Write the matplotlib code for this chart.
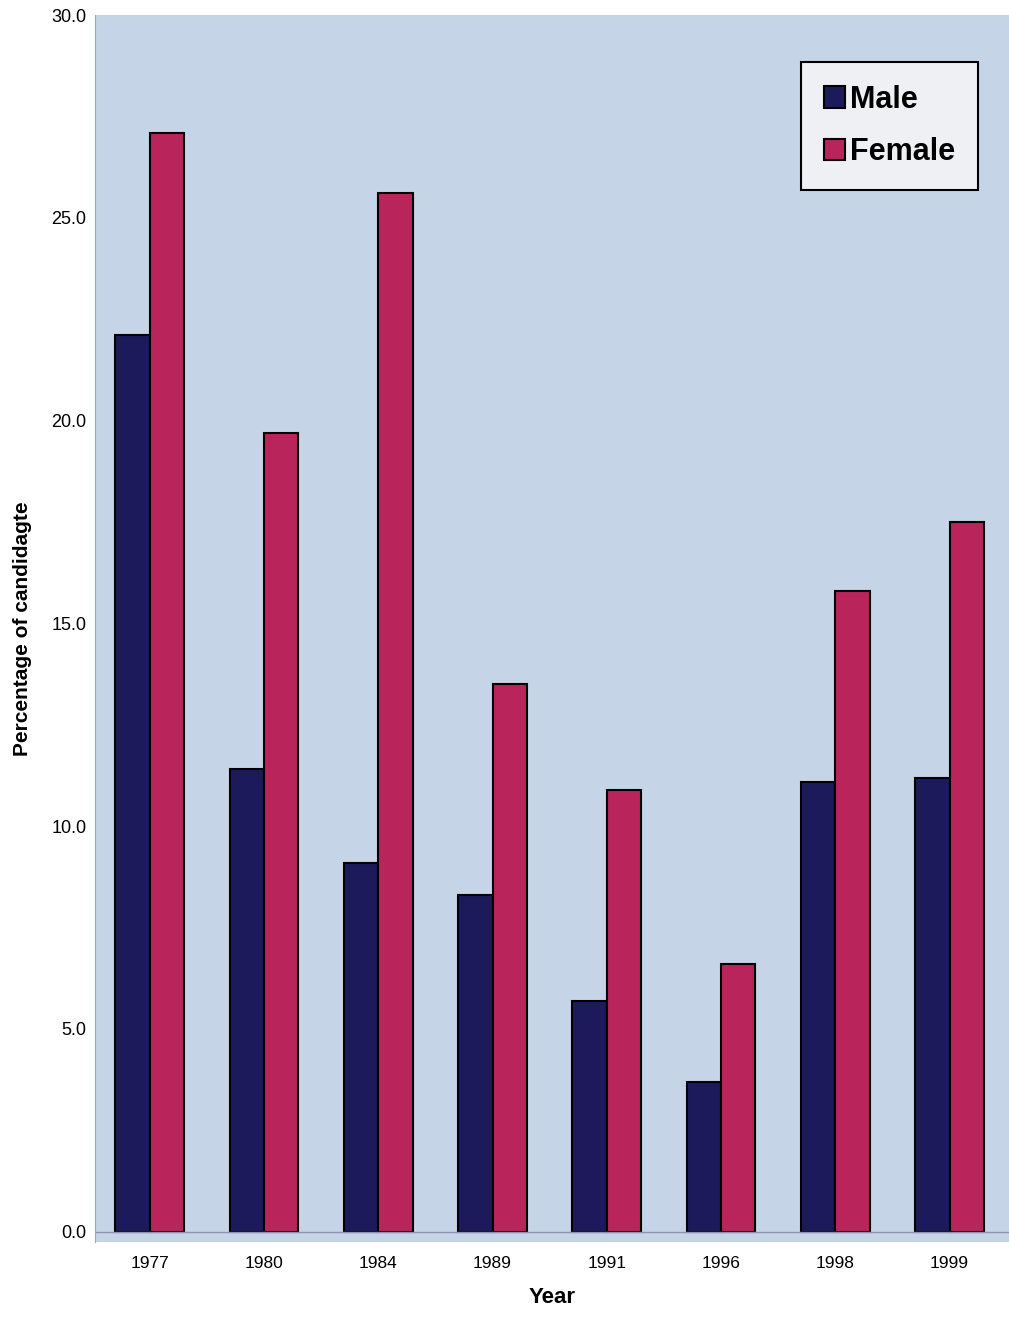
import matplotlib
matplotlib.use("Agg")
import matplotlib.pyplot as plt
import numpy as np

plt.rcParams['font.family'] = ['Liberation Sans', 'DejaVu Sans']

years = ['1977', '1980', '1984', '1989', '1991', '1996', '1998', '1999']
male = [22.1, 11.4, 9.1, 8.3, 5.7, 3.7, 11.1, 11.2]
female = [27.1, 19.7, 25.6, 13.5, 10.9, 6.6, 15.8, 17.5]

fig = plt.figure(figsize=(10.09, 13.17), dpi=100)
ax = fig.add_axes([0.094, 0.057, 0.906, 0.9316])
ax.set_facecolor('#c6d4e7')

x = np.arange(len(years))
w = 0.3
ax.bar(x - w/2, male, w, color='#1d1a5c', edgecolor='black', linewidth=1.5, label='Male')
ax.bar(x + w/2, female, w, color='#b9245b', edgecolor='black', linewidth=1.5, label='Female')

ax.set_xlim(-0.48, 7.52)
ax.set_ylim(-0.25, 30)
ax.set_yticks(np.arange(0, 30.1, 5))
ax.set_yticklabels([f'{v:.1f}' for v in np.arange(0, 30.1, 5)], fontsize=13)
ax.set_xticks(x)
ax.set_xticklabels(years, fontsize=12.5)
ax.tick_params(axis='y', length=0, pad=6)
ax.tick_params(axis='x', length=0, pad=10)
ax.axhline(0, color='#8a93b0', linewidth=1)

for s in ['top', 'right', 'bottom']:
    ax.spines[s].set_visible(False)
ax.spines['left'].set_color('#9aa6c4')
ax.spines['left'].set_linewidth(0.8)

ax.set_xlabel('Year', fontsize=16, fontweight='bold', labelpad=12)
ax.set_ylabel('Percentage of candidagte', fontsize=15, fontweight='bold', labelpad=14)

leg = ax.legend(loc='upper right', bbox_to_anchor=(0.966, 0.962), borderaxespad=0,
                prop={'size': 22, 'weight': 'bold'},
                frameon=True, fancybox=False, edgecolor='black', facecolor='#eef0f4',
                handlelength=0.7, handleheight=0.7, handletextpad=0.15, borderpad=0.75,
                labelspacing=0.75)
leg.get_frame().set_linewidth(1.5)
leg.get_frame().set_alpha(1)

fig.savefig('out.png', dpi=100)
